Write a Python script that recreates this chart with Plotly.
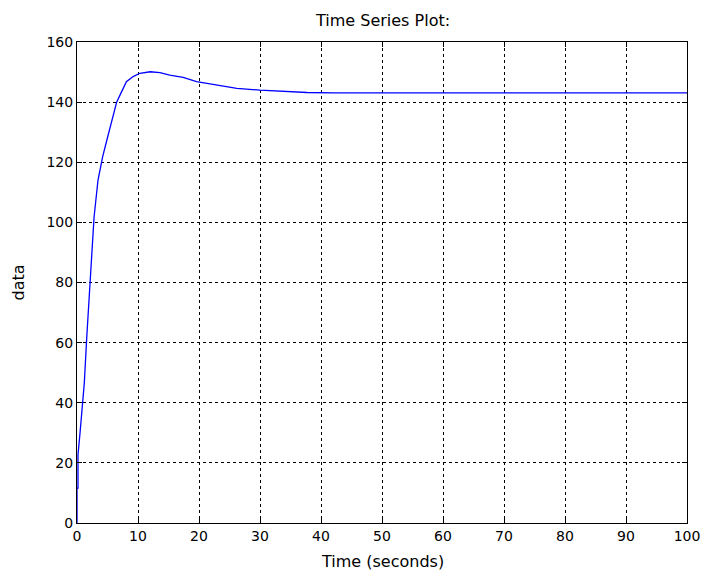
import plotly.graph_objects as go

time_s = [0, 0.0, 0.16, 0.16, 0.5, 0.9, 1.2, 1.6, 2.0, 2.35, 2.8, 3.44, 4.2, 4.9, 5.7,
          6.5, 7.3, 8.1, 9.2, 10.3, 12.0, 13.6, 15.2, 17.4, 19.6, 22.9, 26.2,
          30.0, 34.4, 37.7, 42.0, 50.0, 60.0, 70.0, 80.0, 90.0, 100.0]
data = [0, 11.6, 11.6, 22.6, 30.0, 38.6, 46.6, 61.9, 76.5, 89.8, 101.8, 114.0, 121.8,
        127.4, 133.4, 140.0, 143.4, 146.8, 148.5, 149.6, 150.1, 149.8, 149.0, 148.2,
        146.8, 145.7, 144.6, 144.0, 143.5, 143.2, 143.1, 143.1, 143.1, 143.1, 143.1,
        143.1, 143.1]

x_ticks = [0, 10, 20, 30, 40, 50, 60, 70, 80, 90, 100]
y_ticks = [0, 20, 40, 60, 80, 100, 120, 140, 160]

FONT = "DejaVu Sans"

fig = go.Figure()
fig.add_trace(go.Scatter(x=time_s, y=data, mode="lines",
                         line=dict(color="#0000ff", width=1.3), showlegend=False))

axis_common = dict(
    showline=True, linecolor="black", linewidth=1, mirror="ticks",
    ticks="inside", ticklen=5, tickcolor="black", tickwidth=1,
    showgrid=True, gridcolor="black", gridwidth=1, griddash="3px,3px",
    zeroline=False, automargin=False,
    tickfont=dict(family=FONT, size=14, color="black"),
)
fig.update_xaxes(range=[0, 100], tickvals=x_ticks, **axis_common)
fig.update_yaxes(range=[0, 160], tickvals=y_ticks, **axis_common)

fig.update_layout(
    width=703, height=571,
    margin=dict(l=77, r=16, t=42, b=48, autoexpand=False),
    paper_bgcolor="white", plot_bgcolor="white",
    annotations=[
        dict(text="Time Series Plot:", xref="paper", yref="paper", x=0.5, y=1,
             yshift=22, xanchor="center", yanchor="middle", showarrow=False,
             font=dict(family=FONT, size=16, color="black")),
        dict(text="Time (seconds)", xref="paper", yref="paper", x=0.5, y=0,
             yshift=-38, xanchor="center", yanchor="middle", showarrow=False,
             font=dict(family=FONT, size=16, color="black")),
        dict(text="data", xref="paper", yref="paper", x=0, y=0.5,
             xshift=-59, xanchor="center", yanchor="middle", showarrow=False,
             textangle=-90, font=dict(family=FONT, size=16, color="black")),
    ],
)

fig.write_html("out.html", config={"displayModeBar": False},
               post_script="document.body.style.margin='0';document.body.style.overflow='hidden';")
